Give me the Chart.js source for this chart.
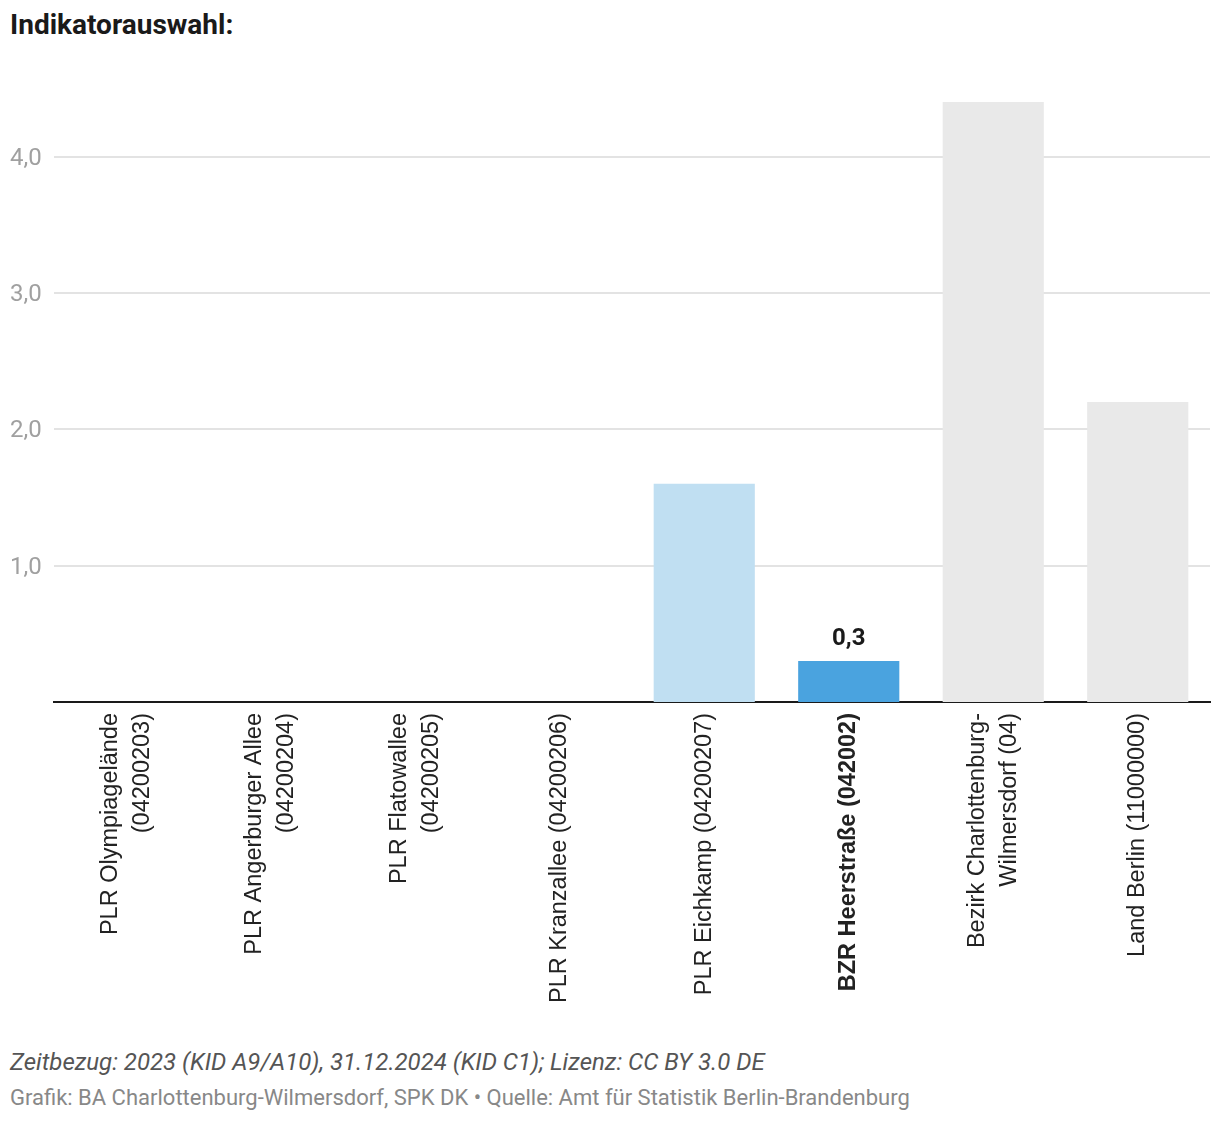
<!DOCTYPE html>
<html lang="de">
<head>
<meta charset="utf-8">
<title>Indikatorauswahl</title>
<script src="https://cdn.jsdelivr.net/npm/chart.js@4.4.1/dist/chart.umd.min.js"></script>
<style>
  body { margin: 0; background: #fff; font-family: Roboto, sans-serif; width: 1220px; height: 1124px; position: relative; overflow: hidden; }
  .title { position: absolute; left: 10px; top: 8px; font-size: 28px; font-weight: 700; color: #1a1a1a; line-height: 1.2; }
  .chart-box { position: absolute; left: 0; top: 50px; width: 1220px; height: 980px; }
  .note { position: absolute; left: 10px; top: 1048px; font-size: 24px; font-style: italic; color: #555; line-height: 1.2; }
  .source { position: absolute; left: 10px; top: 1085px; font-size: 22px; color: #888; line-height: 1.2; }
</style>
</head>
<body>
<div class="title">Indikatorauswahl:</div>
<div class="chart-box"><canvas id="indicatorChart"></canvas></div>
<div class="note">Zeitbezug: 2023 (KID A9/A10), 31.12.2024 (KID C1); Lizenz: CC BY 3.0 DE</div>
<div class="source">Grafik: BA Charlottenburg-Wilmersdorf, SPK DK • Quelle: Amt für Statistik Berlin-Brandenburg</div>

<script>
// Kategorien (zweizeilige Beschriftungen als Arrays)
const areas = [
  ['PLR Olympiagelände', '(04200203)'],
  ['PLR Angerburger Allee', '(04200204)'],
  ['PLR Flatowallee', '(04200205)'],
  ['PLR Kranzallee (04200206)'],
  ['PLR Eichkamp (04200207)'],
  ['BZR Heerstraße (042002)'],
  ['Bezirk Charlottenburg-', 'Wilmersdorf (04)'],
  ['Land Berlin (11000000)']
];
const values = [0, 0, 0, 0, 1.6, 0.3, 4.4, 2.2];
const barColors = ['#c0dff2', '#c0dff2', '#c0dff2', '#c0dff2', '#c0dff2', '#4aa3df', '#e9e9e9', '#e9e9e9'];
const yTicks = [1, 2, 3, 4];
const highlight = 5;

const fmt = v => v.toFixed(1).replace('.', ',');

// Achsenbeschriftungen selbst zeichnen, damit zweizeilige Labels mittig sitzen
const xLabels = {
  id: 'xLabels',
  afterDraw(chart) {
    const ctx = chart.ctx;
    const xs = chart.scales.x;
    const top = chart.chartArea.bottom + 11;
    const lh = 32;
    areas.forEach((lines, i) => {
      const x = xs.getPixelForValue(i);
      ctx.save();
      ctx.translate(x, top);
      ctx.rotate(-Math.PI / 2);
      ctx.textAlign = 'right';
      ctx.textBaseline = 'middle';
      ctx.fillStyle = '#222';
      ctx.font = (i === highlight ? 'bold ' : '') + '23.5px "Liberation Sans", Arial, sans-serif';
      lines.forEach((line, j) => {
        ctx.fillText(line, 0, (j - (lines.length - 1) / 2) * lh);
      });
      ctx.restore();
    });
  }
};

// Wertbeschriftung nur für den hervorgehobenen Balken
const valueLabel = {
  id: 'valueLabel',
  afterDatasetsDraw(chart) {
    const ctx = chart.ctx;
    const bar = chart.getDatasetMeta(0).data[highlight];
    ctx.save();
    ctx.font = 'bold 24px Roboto, sans-serif';
    ctx.fillStyle = '#1a1a1a';
    ctx.textAlign = 'center';
    ctx.textBaseline = 'middle';
    ctx.fillText(fmt(values[highlight]), bar.x, bar.y - 22);
    ctx.restore();
  }
};

const ctx = document.getElementById('indicatorChart').getContext('2d');
new Chart(ctx, {
  type: 'bar',
  data: {
    labels: areas,
    datasets: [{
      data: values,
      backgroundColor: barColors,
      borderWidth: 0,
      barPercentage: 0.7,
      categoryPercentage: 1
    }]
  },
  options: {
    responsive: true,
    maintainAspectRatio: false,
    animation: false,
    layout: { padding: { left: 10, right: 10, top: 52, bottom: 0 } },
    plugins: {
      legend: { display: false },
      tooltip: { enabled: false }
    },
    scales: {
      x: {
        ticks: { display: false },
        grid: { display: false },
        border: { display: true, color: '#1a1a1a', width: 2 },
        afterFit(scale) { scale.height = 328; }
      },
      y: {
        min: 0,
        max: 4.4,
        afterBuildTicks(scale) {
          scale.ticks = yTicks.map(v => ({ value: v }));
        },
        ticks: {
          crossAlign: 'far',
          labelOffset: 2,
          color: '#a0a0a0',
          font: { family: 'Roboto', size: 24 },
          callback: v => fmt(v)
        },
        grid: { color: '#e3e3e3', lineWidth: 2, drawTicks: false },
        border: { display: false },
        afterFit(scale) { scale.width = 44; }
      }
    }
  },
  plugins: [xLabels, valueLabel]
});
</script>
</body>
</html>
